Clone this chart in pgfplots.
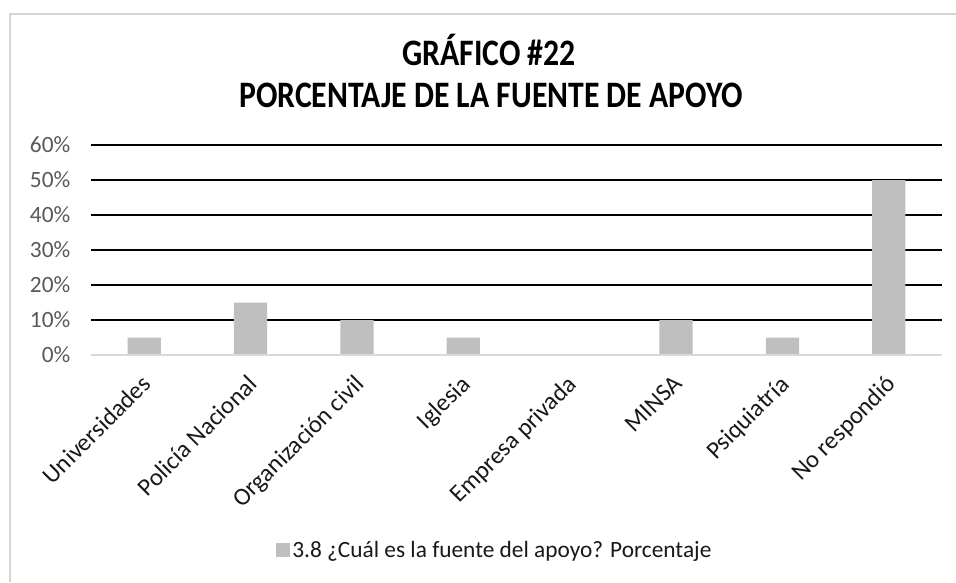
\documentclass[border=0pt]{standalone}
\usepackage{fontspec}
\setmainfont{Carlito}
\usepackage{graphicx}
\usepackage{pgfplots}
\pgfplotsset{compat=1.18}
\definecolor{barc}{HTML}{BFBFBF}
\definecolor{tickc}{HTML}{595959}
\definecolor{framec}{HTML}{D4D4D4}
\definecolor{zeroc}{HTML}{D9D9D9}
\begin{document}
\begin{tikzpicture}[x=0.75pt,y=0.75pt]
\path[use as bounding box] (0,0) rectangle (956,582);
\draw[color=framec, line width=1.6pt] (10,0) -- (10,568) -- (956,568);
\node[font=\bfseries\fontsize{28}{32}\selectfont] at (489,532) {\scalebox{0.85}[1]{GRÁFICO \#22}};
\node[font=\bfseries\fontsize{28}{32}\selectfont] at (491,487) {\scalebox{0.85}[1]{PORCENTAJE DE LA FUENTE DE APOYO}};
\begin{axis}[
  at={(68.25pt,170.25pt)}, anchor=south west,
  scale only axis, width=638.25pt, height=157.5pt,
  xmin=-0.5, xmax=7.5, ymin=0, ymax=60,
  axis line style={draw=none},
  major tick length=0,
  ytick={10,20,...,60},
  extra y ticks={0},
  extra y tick style={grid=none},
  ymajorgrids, grid style={black, line width=2.1pt},
  yticklabel={\pgfmathprintnumber{\tick}\%},
  /pgf/number format/assume math mode=true,
  yticklabel style={font=\fontsize{17.5}{21}\selectfont, text=tickc, xshift=-12pt},
  xtick=data,
  xticklabels={Universidades, Policía Nacional, Organización civil, Iglesia, Empresa privada, MINSA, Psiquiatría, No respondió},
  xticklabel style={font=\fontsize{18.5}{22}\selectfont, text=black!90, xshift=-3pt, yshift=-9pt, rotate=45, anchor=north east},
  ybar, bar width=25pt,
  legend style={at={(0.475,-0.929)}, anchor=center, draw=none, font=\fontsize{17.5}{21}\selectfont, text=black!90},
  legend image code/.code={\fill[barc] (-4pt,-5pt) rectangle (6pt,5pt);},
]
\addplot[fill=barc, draw=none] coordinates {(0,5) (1,15) (2,10) (3,5) (4,0) (5,10) (6,5) (7,50)};
\addlegendentry{3.8 ¿Cuál es la fuente del apoyo? Porcentaje}
\draw[zeroc, line width=2pt] (axis cs:-0.5,0) -- (axis cs:7.5,0);
\end{axis}
\end{tikzpicture}
\end{document}
